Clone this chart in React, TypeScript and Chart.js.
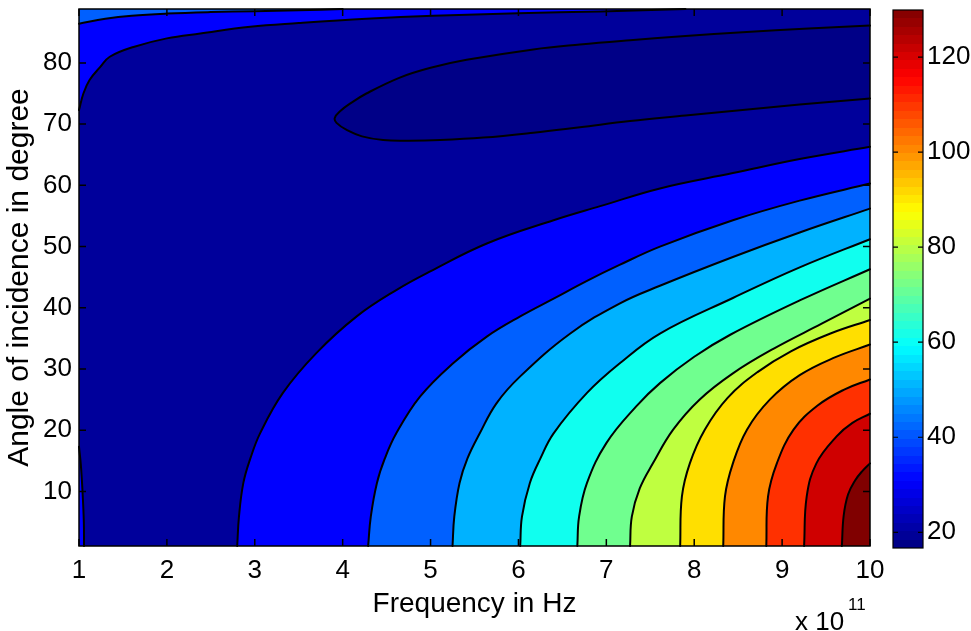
import React, { useEffect, useRef } from "react";
import { Chart, registerables } from "chart.js";

Chart.register(...registerables);

// ---- axis ranges and ticks ----
const X_MIN = 1;
const X_MAX = 10;
const Y_MIN = 1.1;
const Y_MAX = 88.8;
const xTicks = [1, 2, 3, 4, 5, 6, 7, 8, 9, 10];
const yTicks = [10, 20, 30, 40, 50, 60, 70, 80];
const cbMin = 16.7;
const cbMax = 129.9;
const cbTicks = [20, 40, 60, 80, 100, 120];

// ---- contour lines: [frequency (x1e11 Hz), angle (deg)] ----
// closed "20" contour (loop that opens onto the right edge)
const iso20 = [
  [10, 74.2], [9.2, 73.2], [8.55, 72.3], [7.9, 71.4], [7.27, 70.5], [6.7, 69.5],
  [6.17, 68.6], [5.6, 67.8], [5.11, 67.4], [4.75, 67.3], [4.46, 67.4], [4.22, 68.0],
  [4.05, 69.0], [3.93, 70.2], [3.91, 71.0], [3.97, 72.1], [4.1, 73.5], [4.27, 75.0],
  [4.65, 77.6], [5.0, 79.2], [5.41, 80.5], [6.17, 82.2], [6.7, 83.0], [7.27, 83.7],
  [7.9, 84.4], [8.55, 85.0], [9.3, 85.6], [10, 86.1],
];
// upper-left contours near grazing incidence
const iso30Top = [
  [1, 72.3], [1.05, 75.0], [1.12, 77.2], [1.24, 79.3], [1.35, 81.0], [1.62, 82.6],
  [2.0, 84.0], [2.38, 84.8], [2.95, 85.9], [3.5, 86.5], [4.27, 87.2], [5.03, 87.7],
  [6.0, 88.1], [6.93, 88.4], [7.9, 88.8],
];
const iso40Top = [
  [1, 86.4], [1.3, 87.2], [1.6, 87.7], [2.0, 88.05], [2.5, 88.3], [3.0, 88.45],
  [3.5, 88.6], [4.0, 88.8],
];
const iso30Edge = [[1, 17.3], [1.02, 14.5], [1.04, 10], [1.055, 5], [1.057, 1.1]];
// lower-right family of contours
const iso30 = [
  [2.8, 1.1], [2.82, 5.9], [2.87, 11.4], [2.95, 15.4], [3.06, 19.5], [3.32, 26.1],
  [3.7, 32.6], [4.16, 38.6], [4.61, 42.9], [4.99, 45.9], [5.64, 50.5], [6.4, 54.3],
  [6.93, 56.6], [7.61, 59.5], [8.44, 62.0], [9.2, 64.3], [10, 66.3],
];
const iso40 = [
  [4.29, 1.1], [4.32, 5.9], [4.39, 11.4], [4.48, 15.4], [4.61, 19.5], [4.88, 25.5],
  [5.26, 31.0], [5.64, 35.3], [6.02, 38.6], [6.4, 41.5], [6.78, 44.4], [7.15, 47.0],
  [7.61, 50.0], [8.44, 54.3], [9.2, 57.5], [10, 60.3],
];
const iso50 = [
  [5.25, 1.1], [5.27, 5.9], [5.33, 11.4], [5.42, 15.4], [5.56, 19.5], [5.75, 24.4],
  [6.02, 28.8], [6.59, 35.8], [7.15, 40.7], [7.61, 43.6], [8.44, 48.3], [9.2, 52.3],
  [10, 56.2],
];
const iso60 = [
  [6.02, 1.1], [6.04, 5.9], [6.13, 11.4], [6.25, 15.4], [6.4, 19.5], [6.78, 26.1],
  [7.15, 30.9], [7.61, 35.8], [8.44, 41.6], [9.2, 46.6], [10, 51.2],
];
const iso70 = [
  [6.67, 1.1], [6.69, 5.9], [6.78, 11.4], [7.0, 17.9], [7.34, 23.9], [7.61, 27.7],
  [8.0, 32.0], [8.41, 35.6], [9.2, 41.2], [10, 46.3],
];
const iso80 = [
  [7.27, 1.1], [7.29, 5.9], [7.38, 10.5], [7.53, 14.6], [7.76, 20.1], [8.06, 25.0],
  [8.44, 29.3], [8.9, 33.3], [9.45, 37.4], [10, 41.5],
];
const iso90 = [
  [7.84, 1.1], [7.86, 9.2], [7.95, 14.6], [8.12, 20.1], [8.38, 25.3], [8.72, 29.5],
  [9.1, 32.9], [9.55, 35.8], [10, 38.0],
];
const iso100 = [
  [8.33, 1.1], [8.35, 9.2], [8.44, 14.6], [8.6, 20.1], [8.86, 25.0], [9.2, 29.0],
  [9.6, 31.9], [10, 34.0],
];
const iso110 = [
  [8.82, 1.1], [8.84, 9.2], [8.94, 14.6], [9.13, 20.1], [9.4, 24.0], [9.7, 26.6], [10, 28.3],
];
const iso120 = [[9.25, 1.1], [9.28, 9.2], [9.39, 14.6], [9.62, 19.0], [9.8, 21.2], [10, 22.7]];
const iso130 = [[9.68, 1.1], [9.7, 6.0], [9.75, 9.5], [9.83, 11.8], [9.91, 13.3], [10, 14.6]];

// ---- styles ----
const FONT = '"Liberation Sans", Arial, Helvetica, sans-serif';
const TENSION = 0.4;
const colBelow20 = "rgb(0,0,135)";
const colBand20 = "rgb(0,0,155)";
const bandColors = [
  "rgb(0,0,255)", "rgb(0,96,255)", "rgb(0,178,255)", "rgb(16,255,239)",
  "rgb(112,255,143)", "rgb(191,255,64)", "rgb(255,223,0)", "rgb(255,136,0)",
  "rgb(255,48,0)", "rgb(207,0,0)", "rgb(128,0,0)",
];
const lowerContours = [iso30, iso40, iso50, iso60, iso70, iso80, iso90, iso100, iso110, iso120, iso130];

const pts = (arr: number[][]) => arr.map(([x, y]) => ({ x, y }));

function jet(t: number): string {
  const c = (v: number) => Math.round(255 * Math.max(0, Math.min(1, v)));
  const r = c(Math.min(4 * t - 1.5, -4 * t + 4.5));
  const g = c(Math.min(4 * t - 0.5, -4 * t + 3.5));
  const b = c(Math.min(4 * t + 0.5, -4 * t + 2.5));
  return `rgb(${r},${g},${b})`;
}

// region bounded by a contour plus a corner of the plot box; the contour's last
// point is repeated so the smoothed curve meets the box edge as a sharp corner
function region(contour: number[][], corner: number[]) {
  const last = contour[contour.length - 1];
  return [...contour, last, corner];
}

function fillSet(arr: number[][], color: string, order: number, tension = TENSION) {
  return {
    data: pts(arr),
    showLine: true,
    fill: "shape",
    backgroundColor: color,
    borderColor: "rgba(0,0,0,0)",
    borderWidth: 0,
    pointRadius: 0,
    tension,
    order,
  };
}

function lineSet(arr: number[][]) {
  return {
    data: pts(arr),
    showLine: true,
    fill: false,
    borderColor: "#000",
    borderWidth: 2,
    borderJoinStyle: "round",
    borderCapStyle: "round",
    pointRadius: 0,
    tension: TENSION,
    order: 0,
    clip: 1,
  };
}

const framePlugin = {
  id: "matlabFrame",
  afterDatasetsDraw(chart: any) {
    const { ctx, chartArea, scales } = chart;
    const { left, right, top, bottom } = chartArea;
    const x = scales.x;
    const y = scales.y;
    ctx.save();
    ctx.strokeStyle = "#000";
    ctx.lineWidth = 1.5;
    ctx.beginPath();
    for (const v of xTicks) {
      const px = x.getPixelForValue(v);
      ctx.moveTo(px, bottom);
      ctx.lineTo(px, bottom - 7);
      ctx.moveTo(px, top);
      ctx.lineTo(px, top + 7);
    }
    for (const v of yTicks) {
      const py = y.getPixelForValue(v);
      ctx.moveTo(left, py);
      ctx.lineTo(left + 7, py);
      ctx.moveTo(right, py);
      ctx.lineTo(right - 7, py);
    }
    ctx.stroke();
    ctx.strokeRect(left, top, right - left, bottom - top);
    ctx.fillStyle = "#000";
    ctx.textAlign = "left";
    ctx.textBaseline = "alphabetic";
    ctx.font = `26px ${FONT}`;
    ctx.fillText("x 10", right - 75, bottom + 84);
    ctx.font = `17px ${FONT}`;
    ctx.fillText("11", right - 22, bottom + 64);
    ctx.restore();
  },
};

const cbFramePlugin = {
  id: "cbFrame",
  afterDatasetsDraw(chart: any) {
    const { ctx, chartArea, scales } = chart;
    const { left, right, top, bottom } = chartArea;
    ctx.save();
    ctx.strokeStyle = "#000";
    ctx.lineWidth = 1.2;
    ctx.beginPath();
    for (const v of cbTicks) {
      const py = scales.y.getPixelForValue(v);
      ctx.moveTo(left, py);
      ctx.lineTo(left + 5, py);
      ctx.moveTo(right, py);
      ctx.lineTo(right - 5, py);
    }
    ctx.stroke();
    ctx.strokeRect(left, top, right - left, bottom - top);
    ctx.restore();
  },
};

function noEdgePadding(s: any) {
  s.paddingTop = 0;
  s.paddingBottom = 0;
  s.paddingLeft = 0;
  s.paddingRight = 0;
}

function mainConfig(): any {
  const datasets: any[] = [];
  const domain = [[X_MIN, Y_MIN], [X_MAX, Y_MIN], [X_MAX, Y_MAX], [X_MIN, Y_MAX]];
  datasets.push(fillSet(domain, colBand20, 200, 0));
  datasets.push(fillSet(iso20, colBelow20, 199));
  datasets.push(fillSet(region(iso30Top, [X_MIN, Y_MAX]), bandColors[0], 198));
  datasets.push(fillSet(region(iso40Top, [X_MIN, Y_MAX]), bandColors[1], 197));
  datasets.push(fillSet(region(iso30Edge, [X_MIN, Y_MIN]), bandColors[0], 196));
  lowerContours.forEach((c, i) => {
    datasets.push(fillSet(region(c, [X_MAX, Y_MIN]), bandColors[i], 190 - i));
  });
  [iso20, iso30Top, iso40Top, iso30Edge, ...lowerContours].forEach((c) => datasets.push(lineSet(c)));

  return {
    type: "scatter",
    data: { datasets },
    options: {
      responsive: false,
      animation: false,
      events: [],
      layout: { padding: { left: 0, top: 9, right: 101, bottom: 0 } },
      elements: { point: { radius: 0 } },
      scales: {
        x: {
          type: "linear",
          min: X_MIN,
          max: X_MAX,
          afterFit: (s: any) => { s.height = 85; noEdgePadding(s); },
          afterBuildTicks: (s: any) => { s.ticks = xTicks.map((v) => ({ value: v })); },
          grid: { display: false, drawTicks: false },
          border: { display: false },
          ticks: { padding: 9, color: "#000", font: { family: FONT, size: 26 }, autoSkip: false, maxRotation: 0 },
          title: {
            display: true,
            text: "Frequency in Hz",
            color: "#000",
            font: { family: FONT, size: 28 },
            padding: { top: 0, bottom: 10 },
          },
        },
        y: {
          type: "linear",
          min: Y_MIN,
          max: Y_MAX,
          afterFit: (s: any) => { s.width = 79; noEdgePadding(s); },
          afterBuildTicks: (s: any) => { s.ticks = yTicks.map((v) => ({ value: v })); },
          grid: { display: false, drawTicks: false },
          border: { display: false },
          ticks: { padding: 7, color: "#000", font: { family: FONT, size: 26 } },
          title: {
            display: true,
            text: "Angle of incidence in degree",
            color: "#000",
            font: { family: FONT, size: 30 },
            padding: { top: 2, bottom: 0 },
          },
        },
      },
      plugins: { legend: { display: false }, tooltip: { enabled: false } },
    },
    plugins: [framePlugin],
  };
}

function cbConfig(): any {
  return {
    type: "bar",
    data: {
      labels: [""],
      datasets: [
        {
          data: [[cbMin, cbMax]],
          borderWidth: 0,
          barPercentage: 1,
          categoryPercentage: 1,
          backgroundColor: (c: any) => {
            const area = c.chart.chartArea;
            if (!area) return "#000";
            const g = c.chart.ctx.createLinearGradient(0, area.bottom, 0, area.top);
            for (let i = 0; i < 64; i++) {
              const col = jet((i + 0.5) / 64);
              g.addColorStop(i / 64, col);
              g.addColorStop((i + 1) / 64, col);
            }
            return g;
          },
        },
      ],
    },
    options: {
      responsive: false,
      animation: false,
      events: [],
      layout: { padding: { left: 13, top: 10, right: 0, bottom: 83 } },
      scales: {
        x: { display: false },
        y: {
          position: "right",
          min: cbMin,
          max: cbMax,
          afterFit: (s: any) => { s.width = 48; noEdgePadding(s); },
          afterBuildTicks: (s: any) => { s.ticks = cbTicks.map((v) => ({ value: v })); },
          grid: { display: false, drawTicks: false },
          border: { display: false },
          ticks: { padding: 4, color: "#000", font: { family: FONT, size: 26 } },
        },
      },
      plugins: { legend: { display: false }, tooltip: { enabled: false } },
    },
    plugins: [cbFramePlugin],
  };
}

export default function App() {
  const mainRef = useRef<HTMLCanvasElement>(null);
  const cbRef = useRef<HTMLCanvasElement>(null);
  useEffect(() => {
    const main = new Chart(mainRef.current as HTMLCanvasElement, mainConfig());
    const cb = new Chart(cbRef.current as HTMLCanvasElement, cbConfig());
    return () => {
      main.destroy();
      cb.destroy();
    };
  }, []);
  return (
    <div style={{ position: "absolute", left: 0, top: 0, width: 971, height: 631, background: "#fff", overflow: "hidden" }}>
      <canvas ref={mainRef} width={971} height={631} style={{ position: "absolute", left: 0, top: 0 }} />
      <canvas ref={cbRef} width={91} height={631} style={{ position: "absolute", left: 880, top: 0 }} />
    </div>
  );
}
